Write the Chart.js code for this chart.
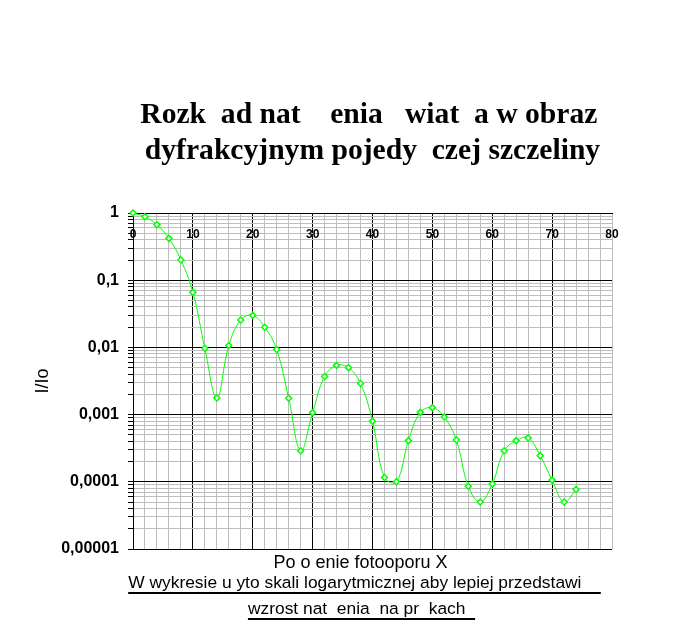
<!DOCTYPE html>
<html>
<head>
<meta charset="utf-8">
<script src="https://cdn.jsdelivr.net/npm/chart.js@4.4.0/dist/chart.umd.min.js"></script>
<style>
  body { margin: 0; background: #fff; }
  canvas { display: block; }
</style>
</head>
<body>
<canvas id="diffChart" width="694" height="627"></canvas>
<script>
const xValues = [0, 2, 4, 6, 8, 10, 12, 14, 16, 18, 20, 22, 24, 26, 28, 30, 32, 34, 36,
	38, 40, 42, 44, 46, 48, 50, 52, 54, 56, 58, 60, 62, 64, 66, 68, 70, 72, 74];
const intensity = [1, 0.88, 0.67, 0.42, 0.20, 0.066, 0.0097, 0.00177, 0.0107, 0.0256,
	0.030, 0.020, 0.0093, 0.00175, 0.00029, 0.00107, 0.0037, 0.0054, 0.0050, 0.0029,
	0.0008, 0.000116, 0.0001, 0.00041, 0.00108, 0.00127, 0.00092, 0.00042, 0.000086,
	0.00005, 0.000093, 0.00029, 0.00041, 0.00045, 0.000245, 0.000106, 0.00005, 0.000077];
const yTickLabels = ['0,00001', '0,0001', '0,001', '0,01', '0,1', '1'];
const titleLines = ['Rozk  ad nat    enia   wiat  a w obraz ', ' dyfrakcyjnym pojedy  czej szczeliny '];
const xTitle = 'Po o enie fotooporu X';
const noteLines = ['W wykresie u yto skali logarytmicznej aby lepiej przedstawi    ', 'wzrost nat  enia  na pr  kach  '];

function decadeOf(v) {
	const e = Math.log10(v);
	return Math.abs(e - Math.round(e)) < 1e-6 ? Math.round(e) : null;
}

// podpis osi X i podkreslona notka pod wykresem
const bottomText = {
	id: 'bottomText',
	afterDraw(chart) {
		const ctx = chart.ctx;
		const area = chart.chartArea;
		const cx = (area.left + area.right) / 2;
		ctx.save();
		ctx.fillStyle = '#000';
		ctx.font = '18px "Liberation Sans", Arial, sans-serif';
		ctx.textBaseline = 'alphabetic';
		ctx.textAlign = 'center';
		ctx.fillText(xTitle, cx - 12, area.bottom + 19);
		ctx.textAlign = 'left';
		ctx.font = '17.4px "Liberation Sans", Arial, sans-serif';
		const rows = [{ text: noteLines[0], c: cx - 8, y: area.bottom + 39 },
			{ text: noteLines[1], c: cx - 11, y: area.bottom + 65 }];
		rows.forEach(r => {
			const w = ctx.measureText(r.text).width;
			const left = r.c - w / 2;
			ctx.fillText(r.text, left, r.y);
			ctx.fillRect(left, r.y + 4, w, 2);
		});
		ctx.restore();
	}
};

document.addEventListener('DOMContentLoaded', function () {
	const ctx = document.getElementById('diffChart').getContext('2d');
	const chart = new Chart(ctx, {
		type: 'line',
		data: {
			datasets: [{
				data: xValues.map((x, i) => ({ x: x, y: intensity[i] })),
				borderColor: '#00ff00',
				borderWidth: 1,
				tension: 0.4,
				pointStyle: 'rectRot',
				pointRadius: 3,
				pointBorderWidth: 1.5,
				pointBorderColor: '#00ff00',
				pointBackgroundColor: '#ffffff',
				clip: false
			}]
		},
		options: {
			responsive: false,
			animation: false,
			layout: {
				padding: { top: 98, right: 82, bottom: 78, left: 0 }
			},
			plugins: {
				legend: { display: false },
				tooltip: { enabled: false },
				title: {
					display: true,
					text: titleLines,
					fullSize: false,
					color: '#000',
					font: { family: '"Liberation Serif", "Times New Roman", serif', size: 29.6, weight: 'bold', lineHeight: 1.2 },
					padding: { top: 0, bottom: 44 }
				}
			},
			scales: {
				x: {
					type: 'linear',
					position: 'top',
					min: 0,
					max: 80,
					afterFit: (scale) => { scale.height = 0; },
					ticks: {
						stepSize: 2,
						autoSkip: false,
						maxRotation: 0,
						mirror: true,
						padding: 14,
						z: 1,
						color: '#000',
						font: { family: '"Liberation Sans", Arial, sans-serif', size: 12, weight: 'bold' },
						callback: (v) => (v % 10 === 0 ? String(v) : '')
					},
					grid: {
						drawTicks: false,
						color: (c) => (c.tick && c.tick.value % 10 === 0 && c.tick.value < 80 ? '#000' : '#bdbdbd')
					},
					border: { color: '#000' }
				},
				y: {
					type: 'logarithmic',
					min: 0.00001,
					max: 1,
					afterFit: (scale) => { scale.width = 133; },
					afterBuildTicks: (scale) => {
						scale.ticks = scale.ticks.filter(t => {
							const m = t.value / Math.pow(10, Math.floor(Math.log10(t.value) + 1e-9));
							return Math.abs(m - Math.round(m)) < 1e-6;
						});
					},
					ticks: {
						autoSkip: false,
						padding: 9,
						color: '#000',
						font: { family: '"Liberation Sans", Arial, sans-serif', size: 16, weight: 'bold' },
						callback: (v) => {
							const e = decadeOf(v);
							return e === null ? '' : yTickLabels[e + 5];
						}
					},
					grid: {
						tickLength: 5,
						tickColor: '#000',
						color: (c) => (c.tick && decadeOf(c.tick.value) !== null ? '#000' : '#bdbdbd')
					},
					border: { color: '#000' },
					title: {
						display: true,
						text: 'I/Io',
						color: '#000',
						font: { family: '"Liberation Sans", Arial, sans-serif', size: 18 },
						padding: { top: 32, bottom: 0 }
					}
				}
			}
		},
		plugins: [bottomText]
	});
});
</script>
</body>
</html>
